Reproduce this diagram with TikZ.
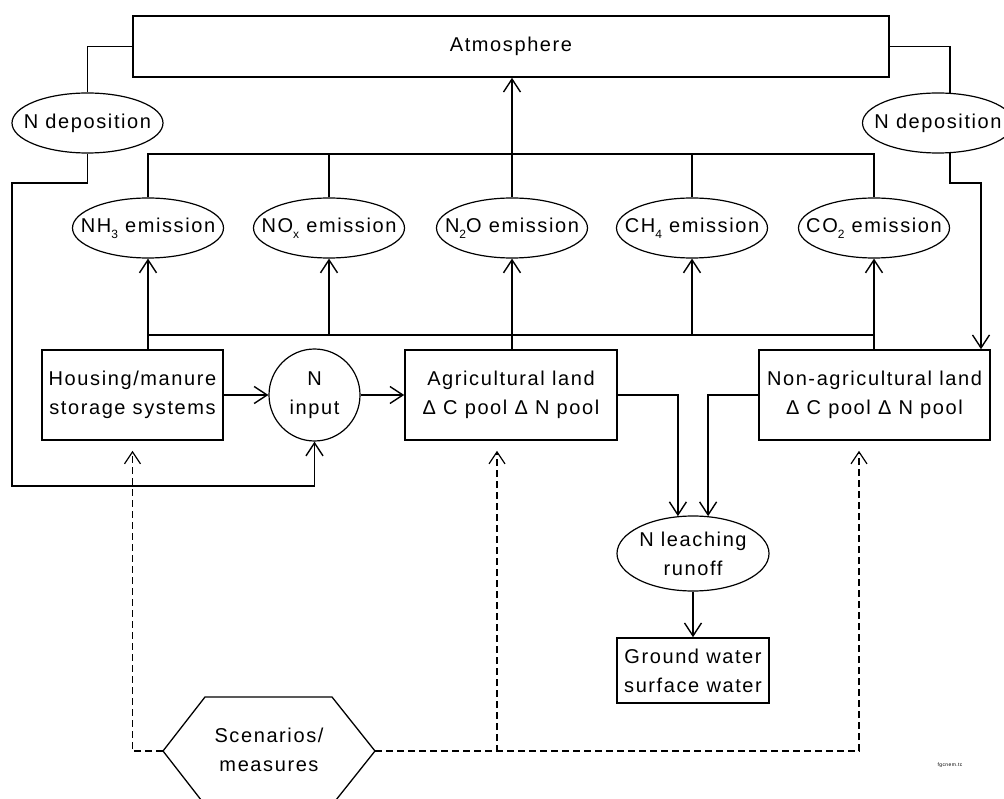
\documentclass[tikz,border=0pt]{standalone}
\usepackage{fontspec}
\setmainfont[LetterSpace=8]{Liberation Sans}
\usetikzlibrary{shapes.geometric,arrows.meta}
\newcommand{\lowsub}[1]{\raisebox{-6pt}{\fontsize{12}{12}\selectfont #1}}
\begin{document}
\begin{tikzpicture}[x=1pt,y=-1pt,
  every node/.style={font=\fontsize{20}{29}\selectfont, align=center, inner sep=0pt},
  box/.style={draw, line width=1.6pt, rectangle},
  oval/.style={draw, line width=1.2pt, ellipse},
  link/.style={line width=1.6pt},
  arr/.style={link, -{Straight Barb[length=13pt,width=17pt,line width=1.4pt]}},
  dasharr/.style={line width=1.5pt, dash pattern=on 7pt off 4pt,
    -{Straight Barb[length=12pt,width=16pt,line width=1.2pt]}},
]
\useasboundingbox (0,0) rectangle (1004,799);

% atmosphere and deposition
\node[box, minimum width=756pt, minimum height=61pt] (atm) at (511,46.5) {Atmosphere};
\node[oval, minimum width=151pt, minimum height=60pt] (ldep) at (87.5,123) {\makebox[0pt]{N deposition}};
\node[oval, minimum width=151pt, minimum height=60pt] (rdep) at (938,123) {\makebox[0pt]{N deposition}};

% emissions
\node[oval, minimum width=151pt, minimum height=60pt] (nh3) at (148,228) {\makebox[0pt]{NH\lowsub{3} emission}};
\node[oval, minimum width=151pt, minimum height=60pt] (nox) at (329,228) {\makebox[0pt]{NO\lowsub{x} emission}};
\node[oval, minimum width=151pt, minimum height=60pt] (n2o) at (512,228) {\makebox[0pt]{N\lowsub{2}O emission}};
\node[oval, minimum width=151pt, minimum height=60pt] (ch4) at (692,228) {\makebox[0pt]{CH\lowsub{4} emission}};
\node[oval, minimum width=151pt, minimum height=60pt] (co2) at (874,228) {\makebox[0pt]{CO\lowsub{2} emission}};

% land and storage compartments
\node[box, minimum width=181pt, minimum height=90pt] (house) at (132.5,395) {Housing/manure\\storage systems};
\node[oval, minimum width=91pt, minimum height=92pt] (nin) at (314.5,395) {N\\input};
\node[box, minimum width=212pt, minimum height=90pt] (agri) at (511,395) {Agricultural land\\Δ C pool Δ N pool};
\node[box, minimum width=231pt, minimum height=90pt] (nonag) at (874.5,395) {Non-agricultural land\\Δ C pool Δ N pool};
\node[oval, minimum width=152pt, minimum height=75pt] (leach) at (693,553.5) {\makebox[0pt]{N leaching}\\\makebox[0pt]{runoff}};
\node[box, minimum width=152pt, minimum height=65pt] (ground) at (693,670.5) {Ground water\\surface water};

% scenarios hexagon
\coordinate (hexL) at (163,751);
\coordinate (hexR) at (375,751);
\draw[line width=1.3pt] (hexL) -- (205,697) -- (332,697) -- (hexR) -- (332,805) -- (205,805) -- cycle;
\node (scen) at (269,750) {Scenarios/\\measures};

% deposition loops
\coordinate (lturn) at (12,183);
\coordinate (lbot) at (12,486);
\coordinate (rturn) at (981,183);
\draw[link] (atm.west) -| (ldep.north);
\draw[link] (atm.east) -| (rdep.68);
\draw[arr] (ldep.south) |- (lturn) -- (lbot) -| (nin.south);
\draw[arr] (rdep.-68) |- (rturn) -- (rturn |- nonag.north);

% emissions to atmosphere
\coordinate (topbus) at (0,154);
\draw[link] (nh3.north) -- (nh3.north |- topbus) -- (co2.north |- topbus) -- (co2.north);
\draw[link] (nox.north) -- (nox.north |- topbus);
\draw[link] (ch4.north) -- (ch4.north |- topbus);
\draw[arr] (n2o.north) -- (atm.south -| n2o.north);

% sources to emissions
\coordinate (lowbus) at (0,335);
\draw[arr] (nh3.south |- house.north) -- (nh3.south);
\draw[arr] (co2.south |- nonag.north) -- (co2.south);
\draw[link] (nh3.south |- lowbus) -- (co2.south |- lowbus);
\draw[arr] (nox.south |- lowbus) -- (nox.south);
\draw[arr] (ch4.south |- lowbus) -- (ch4.south);
\draw[arr] (agri.north -| n2o.south) -- (n2o.south);

% nitrogen flows
\draw[arr] (house.east) -- (nin.west);
\draw[arr] (nin.east) -- (agri.west);
\draw[arr] (agri.east) -| (leach.112);
\draw[arr] (nonag.west) -| (leach.68);
\draw[arr] (leach.south) -- (ground.north);

% scenario influences
\draw[dasharr] (hexL) -| ([yshift=-10pt]house.south);
\draw[dasharr] (hexR) -| ([xshift=-14pt,yshift=-10pt]agri.south);
\draw[dasharr] (hexR) -| ([xshift=-15.5pt,yshift=-10pt]nonag.south);

\node[font=\fontsize{5}{6}\selectfont] (tag) at (950,765) {fgcnem.tc};
\end{tikzpicture}
\end{document}
